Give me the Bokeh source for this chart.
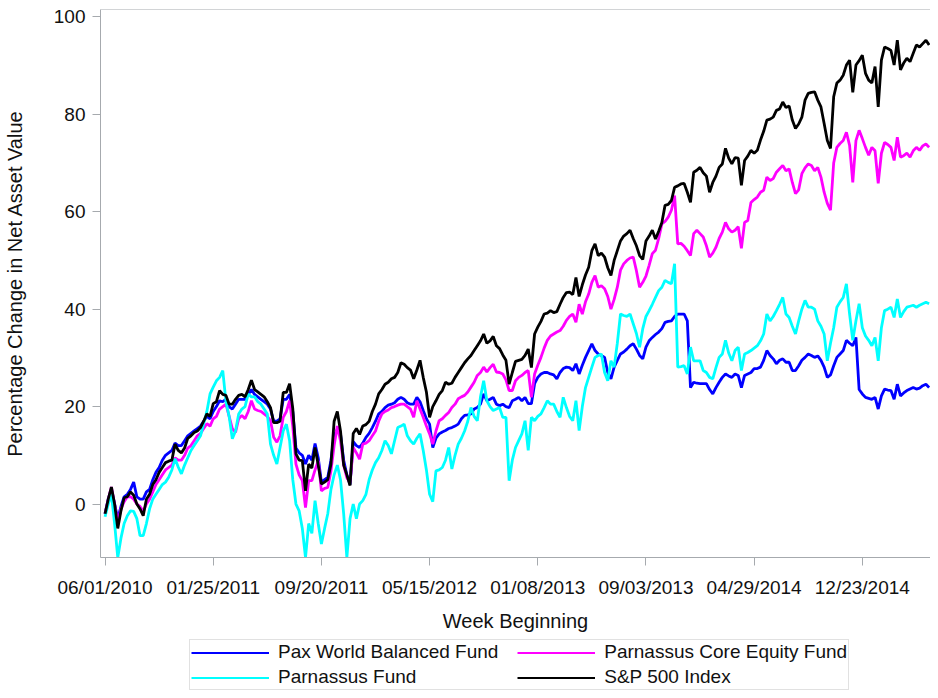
import pandas as pd
from bokeh.plotting import figure
from bokeh.layouts import column
from bokeh.models import (Range1d, FixedTicker, DatetimeTickFormatter, Legend, LegendItem, Span)
from bokeh.embed import file_html
from bokeh.resources import INLINE

# ---------------- data (weekly, percentage change in NAV) ----------------
start_date = "2010-06-01"
tick_labels = ["06/01/2010", "01/25/2011", "09/20/2011", "05/15/2012",
               "01/08/2013", "09/03/2013", "04/29/2014", "12/23/2014"]
y_ticks = [0, 20, 40, 60, 80, 100]
series_names = ["Pax World Balanced Fund", "Parnassus Core Equity Fund",
                "Parnassus Fund", "S&P 500 Index"]

pax_world = [
    -2, 1, 3, 0, -3, -0.5, 1.5, 2, 3, 4.5,
    1.5, 1, 1, 2.5, 3, 5, 6.5, 7.5, 9, 10,
    10.5, 11, 12.5, 12, 12, 13, 14, 14.5, 15, 15.5,
    16, 17, 18, 17.5, 19, 20, 21.2, 21, 21.5, 20,
    19.5, 20.5, 21.5, 21.5, 21.5, 22.5, 23.5, 22.5, 22, 21.5,
    21, 20.5, 19.5, 17, 17, 17.5, 21.5, 21.5, 22.5, 19,
    11.5, 10.5, 10, 8.2, 10, 9, 12.4, 9.5, 4.5, 5,
    5.5, 9, 14, 15.4, 14.4, 9, 6, 4, 12.8, 12,
    11.6, 12.5, 13.7, 14.5, 15.7, 17, 18.5, 19, 19.8, 20.3,
    20.5, 20.8, 21.5, 21.9, 21.5, 20.8, 20.5, 20.5, 21.9, 21,
    19.2, 17.5, 16.4, 11.6, 13.5, 14.4, 14.8, 15.1, 15.5, 15.7,
    16, 16.4, 17.5, 18.2, 18.3, 18.5, 19.5, 19.8, 20.5, 22.6,
    21.2, 21.5, 21.9, 20.5, 20.2, 20.5, 20, 19.8, 21.2, 21.5,
    21.9, 21.2, 21.9, 20.6, 20.6, 24.7, 26, 26.7, 27, 27,
    26.7, 26.5, 25.7, 27, 27.8, 28.1, 28, 27.4, 28.8, 26.7,
    28.5, 30.1, 31.5, 32.9, 31.5, 30.8, 30.5, 30.1, 27, 25.7,
    28.1, 29.5, 30.8, 31.2, 31.8, 32.5, 32.9, 31.8, 30.5, 29.8,
    32.2, 33.5, 34.2, 34.8, 35.3, 36, 37.3, 37.5, 37.6, 38.5,
    39, 39, 39, 37.6, 23.9, 25, 24.8, 24.7, 24.7, 24.7,
    23.5, 22.6, 23.9, 25, 26, 26.7, 26.3, 26, 26.7, 26.4,
    23.9, 26.4, 26.7, 27, 27.8, 27.8, 28.1, 29.5, 31.5, 30.5,
    29.8, 28.8, 29.5, 29.8, 29.1, 29.1, 27.4, 27.4, 28.4, 29.5,
    30.1, 30.8, 30.5, 30.1, 30.4, 29.5, 28.1, 26, 26.5, 28.4,
    30.1, 30.8, 31.5, 33.6, 33, 32.5, 34.2, 23.5, 22.6, 21.9,
    21.7, 21.5, 21.9, 19.5, 22.2, 23.6, 23.4, 23.3, 21.5, 24.6,
    22.2, 22.8, 23.3, 23.6, 23.9, 23.6, 23.8, 24.3, 24.6, 23.9,
]

core_equity = [
    -2, 1, 3.5, 0, -4, -1, 0.5, 1.5, 1.5, 1,
    0, -0.5, -1.5, 0, 1, 2.5, 4, 5, 6, 7,
    7.5, 8, 9.5, 9, 9, 10, 11.5, 12, 13, 14,
    14.5, 15.5, 16.5, 16, 17.5, 18, 19.5, 20, 20.5, 18,
    15.5, 14.7, 17.5, 18.2, 17.5, 19, 21.2, 19.5, 19.2, 19,
    18.5, 18, 17.1, 13.7, 12.7, 14, 17.8, 19, 21.2, 16,
    8.2, 6, 4.8, -0.7, 4.8, 4.8, 7, 8.9, 2.7, 3.2,
    3.4, 6.8, 12, 16, 13, 8, 5.4, 4.4, 11.6, 10.5,
    9.2, 12.3, 12.5, 13, 14, 15, 17, 18.5, 19, 19.3,
    19.8, 20, 20.3, 20.5, 20.5, 20, 19.5, 17.8, 21.2, 19.5,
    17.8, 16, 14.4, 12.3, 15, 17.1, 17.5, 18.2, 18.8, 19.8,
    20.5, 21.6, 22, 22.3, 23, 24, 25, 26.4, 27, 28.1,
    27.1, 28, 28.7, 27.1, 27, 26.7, 25.5, 23.3, 23.3, 25.3,
    26, 26.4, 27, 27.4, 21.9, 26.7, 28.5, 30.1, 32, 33.6,
    34.5, 34.9, 35.3, 35.6, 36.5, 37.7, 38.5, 39, 37.3, 41,
    39, 41.5, 43.1, 45.5, 46.9, 44.5, 44.8, 44.2, 42.6, 40,
    42, 44.5, 48, 49.3, 50, 50.5, 50.7, 47.9, 44.5, 45.5,
    46.8, 49, 51.4, 52.1, 54.5, 57.5, 58, 58.9, 60.3, 63.3,
    53.4, 53.5, 52.9, 52, 51, 55.5, 56.2, 55.5, 54.8, 53,
    50.7, 51.5, 52.7, 54.5, 55.8, 57.8, 56.5, 55.8, 56.2, 56.9,
    52.5, 57.8, 58.2, 61.9, 62.5, 63, 64, 64.4, 67.1, 66.4,
    66.8, 68.1, 68.8, 69.5, 68.4, 68.8, 66, 63.7, 64.5, 67.8,
    69, 69.8, 69.5, 68.4, 69.1, 67.1, 64, 61.7, 60.3, 70,
    73.2, 74, 74.6, 76.3, 73.6, 66, 74.6, 76.7, 75, 73.2,
    71.6, 73.2, 72.5, 65.8, 72, 74.2, 73.8, 73.2, 70.5, 75.3,
    71.2, 71.5, 72, 71.2, 72.5, 73.2, 72.6, 73.5, 73.9, 73.2,
]

parnassus_fund = [
    -2.6, 0, 2, -4, -11, -7, -4, -2.4, -1.4, -1.5,
    -3, -6.5, -6.5, -4, -1, 1, 2, 3, 4, 4.5,
    5.5, 7, 9.3, 7.6, 6.2, 8, 9.5, 11, 12, 13,
    14, 16.5, 19, 22.6, 24, 25.3, 26, 27.4, 21, 18,
    13.4, 15, 18.5, 19.5, 20, 22.6, 22, 22, 21, 20.5,
    19.5, 18.5, 12.3, 10, 8.2, 11.6, 15, 16.4, 13, 5,
    0, -1.4, -5, -11, -4, -6, 0.7, -4, -8.2, -5,
    -2, 3, 6, 8, 5, -2, -11, -3, 0, -3,
    0, 0.7, 2, 5, 7, 8.5, 9.5, 11, 13, 12,
    10.3, 13, 15.7, 16, 16.4, 14, 13, 12.3, 13.5, 14.4,
    11, 7, 2, 0.5, 6.8, 7, 7.5, 9, 11.6, 7.2,
    10, 12.3, 13.5, 15, 17, 19.8, 18, 17.1, 22, 25.3,
    21.2, 20, 19.2, 19.5, 19.8, 17.8, 17.8, 4.8, 9, 11.6,
    13, 14.4, 17.1, 11, 17.8, 17.1, 18, 18.5, 19.8, 21.2,
    20.5, 20.5, 19, 17.8, 21.9, 19.8, 18, 17.1, 21.2, 15.1,
    20, 23.9, 26, 28.1, 30.1, 30.5, 30.8, 27, 25.3, 29.4,
    28.1, 33, 39, 38.7, 38.5, 39, 37, 35, 32.2, 36,
    38.5, 39.7, 41, 42.4, 43.8, 44.5, 45.9, 45.5, 45.2, 49.3,
    28.1, 28.2, 28.4, 26.7, 32.2, 29.4, 29.4, 29.4, 27.4, 27,
    26, 25.7, 28, 30.1, 30.8, 33.6, 31, 29.4, 31.5, 32.2,
    27.4, 30.8, 31.1, 31.5, 32, 32.5, 33.5, 34.9, 39, 37.6,
    38.5, 39.7, 41, 42.4, 39, 38.3, 36.5, 34.9, 37.6, 40,
    41.8, 40.4, 40.4, 40, 37.6, 36.5, 34.9, 29.4, 33, 36.2,
    40.4, 41.5, 42.4, 45.2, 39, 33.6, 37.6, 41.1, 36.2, 34.5,
    33.6, 32.5, 34.2, 29.4, 36.2, 39.7, 40, 40.4, 38.3, 42.1,
    38.3, 39.5, 40.4, 40.6, 40.8, 40.4, 40.8, 41.1, 41.4, 41.1,
]

sp500 = [
    -2, 1, 3.5, 0, -5, -1.4, 1.3, 1.5, 2.5, 1.8,
    0, -1, -2.4, 1, 2, 4, 5, 6.5, 7.5, 8.5,
    8.8, 9, 12.3, 11, 10.5, 11.5, 13.5, 14, 14.7, 15,
    15.7, 17, 18.5, 18, 20.6, 21, 23.3, 22.5, 22.3, 20.5,
    20.5, 21.5, 22.3, 22.5, 22, 23.5, 25.4, 23.5, 23, 22.5,
    22, 21, 19.8, 16.7, 16.7, 17, 22.9, 22.9, 24.7, 19.6,
    10.3, 9, 8.9, 2.7, 8.2, 7.4, 11.6, 8, 4.1, 4.5,
    5, 8.2, 17, 19, 15, 8, 6, 3.8, 14.5, 15.5,
    14.3, 16, 16.3, 17, 19, 20.5, 22.6, 23.5, 24.6, 25,
    25.7, 26, 27, 29, 28.7, 28, 27.5, 25.7, 27.5, 29.5,
    26, 23, 17.8, 20, 21.2, 22.5, 23.3, 25, 24.6, 24.8,
    26, 27, 28, 29, 29.8, 30.5, 31.5, 32.5, 33.5, 34.9,
    33, 33.5, 34.4, 32.5, 31.9, 30.6, 29.5, 24.6, 27, 29.3,
    29.5, 29.7, 30.5, 31.8, 28, 34.9, 36.3, 37.5, 39, 39.2,
    39.7, 39.3, 39.5, 41, 42.4, 43.4, 43.5, 43, 46.5, 42.6,
    45, 47, 48.6, 52, 53.4, 51, 51.5, 50.7, 48.5, 46.9,
    50, 52, 54, 55, 55.5, 56.2, 54.5, 53, 51, 50.2,
    54, 55, 56.2, 54.4, 56, 57.8, 61.3, 61.5, 62.3, 65,
    65.3, 65.7, 65.8, 64, 61.9, 68.1, 68.5, 69.1, 68, 67.3,
    64, 66, 67.3, 69.1, 69.8, 73, 71, 69.8, 71.1, 71,
    65.4, 70.5, 71.4, 72.6, 72, 72.6, 74.7, 76.5, 78.8, 79,
    79.4, 80.8, 81.1, 82.5, 81.4, 81.7, 78.8, 77.1, 78, 79.4,
    82.9, 84.3, 84.5, 84.6, 82.9, 81.5, 78.1, 74.6, 73, 83.6,
    86.4, 87, 88, 90.1, 91.1, 84.5, 90.1, 91, 92.1, 88.4,
    87, 86.4, 89.8, 81.5, 91.1, 93.8, 93.5, 93.1, 90.1, 95.2,
    89.1, 90.5, 91.5, 90.8, 92.5, 94.2, 93.8, 94.5, 95.2, 94.2,
]

series_values = [pax_world, core_equity, parnassus_fund, sp500]
series_colors = ["#0000FF", "#FF00FF", "#00FFFF", "#000000"]

# ---------------- main figure ----------------
dates = pd.date_range(start_date, periods=len(sp500), freq="7D")
x_start = dates[0] - pd.Timedelta(days=10)
x_end = dates[-1] + pd.Timedelta(days=3)

AXIS_GREY = "#A6AAAE"
FONT = "Liberation Sans"
TEXT = "#111111"
LINE_W = 2.8
LEGEND_LINE_W = 2.2

p = figure(width=930, height=635, output_backend="svg", toolbar_location=None,
           x_axis_type="datetime",
           x_range=Range1d(start=x_start, end=x_end),
           y_range=Range1d(start=-10.97, end=101.5),
           min_border_left=95, min_border_right=0,
           min_border_top=9, min_border_bottom=78)

p.xgrid.visible = False
p.ygrid.visible = False
p.outline_line_color = None
p.background_fill_color = "white"
p.border_fill_color = "white"

for vals, col in zip(series_values, series_colors):
    p.line(dates, vals, line_color=col, line_width=LINE_W)

# top frame line
p.add_layout(Span(location=101.5, dimension="width", line_color=AXIS_GREY, line_width=1))

tick_ms = [pd.Timestamp(pd.to_datetime(t, format="%m/%d/%Y")).value / 1e6 for t in tick_labels]
p.xaxis.ticker = FixedTicker(ticks=tick_ms)
fmt = "%m/%d/%Y"
p.xaxis.formatter = DatetimeTickFormatter(days=fmt, months=fmt, years=fmt, hours=fmt,
                                          minutes=fmt, hourmin=fmt, seconds=fmt)
p.yaxis.ticker = FixedTicker(ticks=y_ticks)

for ax in (p.xaxis[0], p.yaxis[0]):
    ax.axis_line_color = AXIS_GREY
    ax.major_tick_line_color = AXIS_GREY
    ax.major_tick_out = 8
    ax.major_tick_in = 0
    ax.minor_tick_out = 0
    ax.minor_tick_in = 0
    ax.major_label_text_font = FONT
    ax.major_label_text_font_size = "19px"
    ax.major_label_text_color = TEXT
    ax.axis_label_text_font = FONT
    ax.axis_label_text_font_size = "20px"
    ax.axis_label_text_font_style = "normal"
    ax.axis_label_text_color = TEXT

p.xaxis.axis_label = "Week Beginning"
p.xaxis.major_label_standoff = 11
p.xaxis.axis_label_standoff = 9
p.yaxis.axis_label = "Percentage Change in Net Asset Value"
p.yaxis.major_label_standoff = 7
p.yaxis.axis_label_standoff = 25

# ---------------- legend strip (series drawn out of view; only the legend shows) ----------------
leg_fig = figure(width=930, height=55, output_backend="svg", toolbar_location=None,
                 x_axis_type="datetime",
                 x_range=Range1d(start=x_start, end=x_end), y_range=Range1d(-1000, -999),
                 x_axis_location=None, y_axis_location=None,
                 min_border_left=0, min_border_right=0, min_border_top=0, min_border_bottom=0)
leg_fig.xgrid.visible = False
leg_fig.ygrid.visible = False
leg_fig.outline_line_color = None
leg_fig.background_fill_color = "white"
leg_fig.border_fill_color = "white"

leg_renderers = [leg_fig.line(dates, vals, line_color=c, line_width=LEGEND_LINE_W)
                 for vals, c in zip(series_values, series_colors)]
leg_labels = [series_names[0] + "   ", series_names[1], series_names[2], series_names[3]]
items = [LegendItem(label=name, renderers=[r]) for name, r in zip(leg_labels, leg_renderers)]
legend = Legend(items=items, location=(89, 0), orientation="horizontal", ncols=2,
                glyph_width=78, glyph_height=21, label_height=21, label_standoff=9,
                spacing=3, padding=1, margin=0, border_line_color="#C4C4C4",
                label_text_font=FONT, label_text_font_size="19px",
                label_text_color=TEXT, background_fill_color="white",
                background_fill_alpha=1.0)
leg_fig.add_layout(legend)

layout = column(p, leg_fig, spacing=0)
open("out.html", "w").write(file_html(layout, INLINE))
